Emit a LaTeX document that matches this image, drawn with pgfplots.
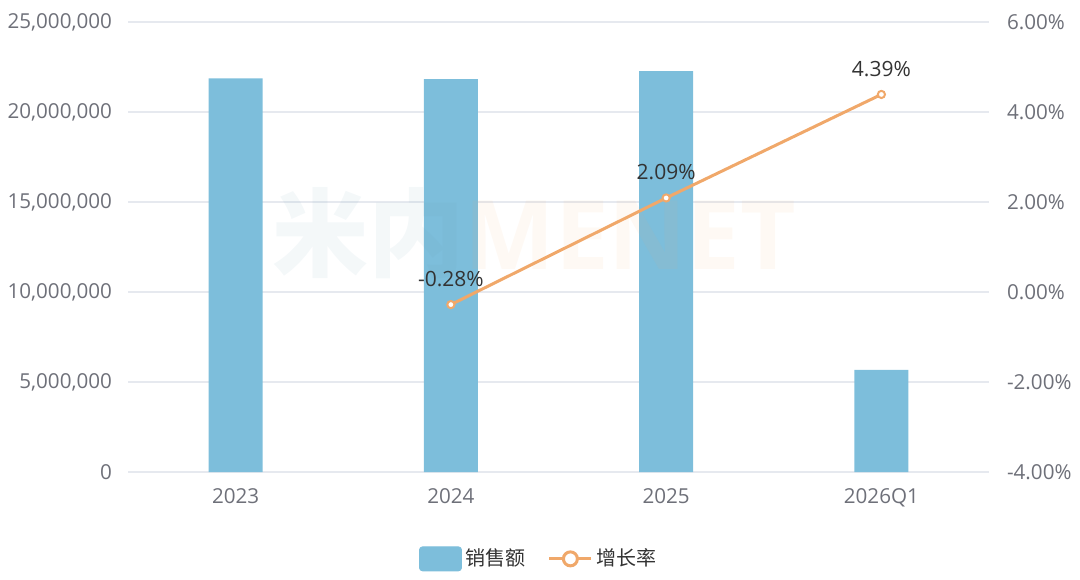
\documentclass[border=0pt]{standalone}
\usepackage{pgfplots}
\usepackage{pgfplotstable}
\pgfplotsset{compat=1.18}
\usepackage{fontspec}
\setmainfont{Open Sans}
\newfontfamily\cjk{Noto Sans CJK SC}

\definecolor{barc}{HTML}{7DBEDB}
\definecolor{linec}{HTML}{F0A86A}
\definecolor{tickc}{HTML}{6E7079}
\definecolor{gridc}{HTML}{E6E9EF}
\definecolor{labc}{HTML}{333333}

% sales per year
\pgfplotstableread{
x sales
0 21870000
1 21820000
2 22270000
3 5670000
}\salestable

% growth rate, percent
\pgfplotstableread{
x rate
1 -0.28
2 2.09
3 4.39
}\ratetable

\begin{document}
\begin{tikzpicture}
\pgfplotsset{
  base/.style={
    scale only axis, width=430.5pt, height=225pt,
    at={(64pt,53.5pt)}, anchor=south west,
    xmin=-0.5, xmax=3.5,
    axis line style={draw=none},
    tick style={draw=none},
    tick label style={font=\fontsize{10.3}{12}\selectfont, text=tickc},
    /pgf/number format/assume math mode=true,
  }
}
\begin{axis}[base,
  ybar, bar width=27pt,
  ymin=0, ymax=25000000, ytick={0,5000000,10000000,15000000,20000000,25000000},
  scaled y ticks=false,
  yticklabel style={/pgf/number format/fixed, /pgf/number format/1000 sep={,}, xshift=-4.5pt},
  ymajorgrids, grid style={gridc, line width=0.6pt},
  ytick pos=left,
  xtick={0,1,2,3}, xticklabels={2023,2024,2025,2026Q1},
  xticklabel style={yshift=-0.5pt},
]
\addplot[fill=barc, draw=none] table[x=x,y=sales]{\salestable};
\end{axis}

\begin{axis}[base,
  ymin=-4, ymax=6, ytick={-4,-2,0,2,4,6},
  ytick pos=right, yticklabel pos=right,
  yticklabel={\pgfmathprintnumber[fixed,fixed zerofill,precision=2]{\tick}\%},
  yticklabel style={xshift=5.5pt},
  xtick=\empty,
  legend style={at={(0.4785,-0.193)}, anchor=center, draw=none, fill=none,
    legend columns=2, font=\fontsize{10}{12}\selectfont, text=labc,
    /tikz/every even column/.append style={column sep=9pt}},
  legend cell align=left,
]
\addlegendimage{legend image code/.code={\fill[barc, rounded corners=1.5pt] (0pt,-6pt) rectangle (21pt,6pt);}}
\addlegendentry{\cjk 销售额}
\addplot[linec, line width=1.5pt, mark=*, mark size=1.8pt,
  mark options={fill=white, draw=linec, line width=1pt},
  point meta=explicit,
  nodes near coords={\pgfmathprintnumber[fixed,fixed zerofill,precision=2]{\pgfplotspointmeta}\%},
  nodes near coords style={anchor=south, inner sep=0pt, yshift=8.5pt, text=labc, font=\fontsize{10.5}{12}\selectfont},
  legend image code/.code={\draw[linec, line width=1.5pt] (0pt,0pt) -- (21pt,0pt);
    \draw[linec, line width=1.5pt, fill=white] (10.5pt,0pt) circle (3.5pt);},
] table[x=x,y=rate,meta=rate]{\ratetable};
\addlegendentry{\cjk 增长率}
\node[opacity=0.07, inner sep=0pt] at (rel axis cs:0.472,0.531)
  {\fontsize{48}{50}\selectfont\bfseries{\cjk\color{barc!80!black}米内}\color{linec}MENET};
\end{axis}
\pgfresetboundingbox
\path[use as bounding box] (0,0) rectangle (540pt,289.5pt);
\end{tikzpicture}
\end{document}
